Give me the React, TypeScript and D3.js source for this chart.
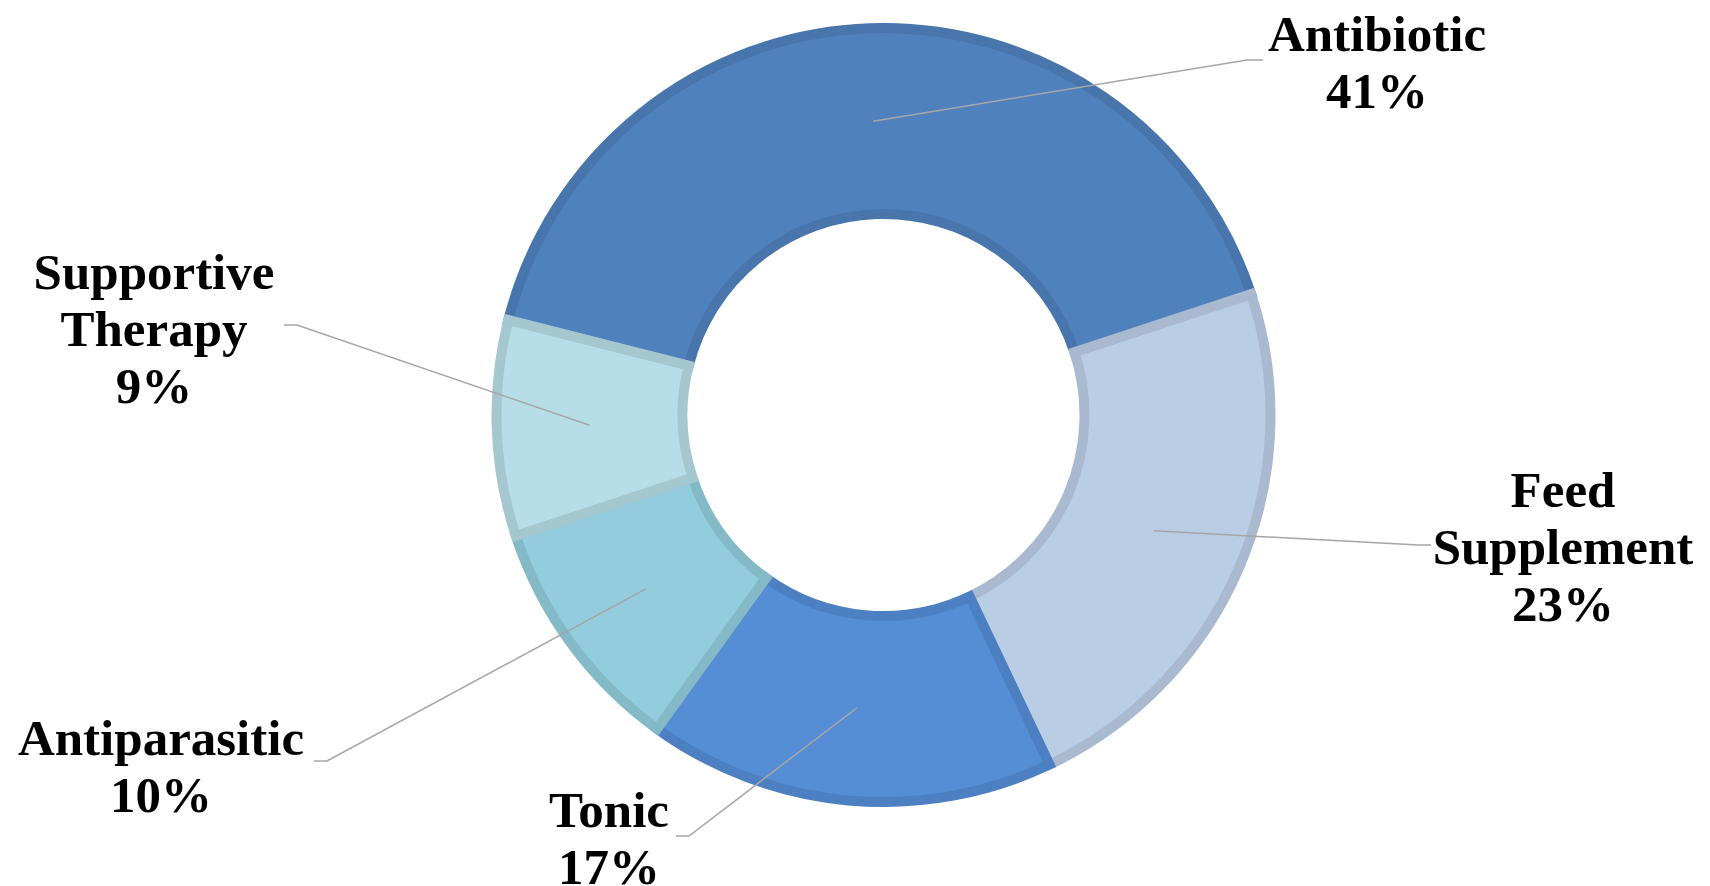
import React, { useEffect } from "react";
import * as d3 from "d3";

// Share of drug classes used (percent)
const categories = ["Antibiotic", "Feed Supplement", "Tonic", "Antiparasitic", "Supportive Therapy"];
const shares = [41, 23, 17, 10, 9];
const fills = ["#4F81BD", "#B9CDE5", "#558ED5", "#93CDDD", "#B7DEE8"];
const borders = ["#4775AC", "#A8B9D0", "#4C80C2", "#84B9C7", "#A5C8D0"];

// Label text lines per category
const labelLines = [
  ["Antibiotic"],
  ["Feed", "Supplement"],
  ["Tonic"],
  ["Antiparasitic"],
  ["Supportive", "Therapy"],
];

// Label block placement: centre x, first baseline y, leader elbow (x, y) and elbow tail length
const labelLayout = [
  { x: 1377, y: 51, ex: 1247, ey: 60, tail: 16 },
  { x: 1563, y: 507, ex: 1418, ey: 545, tail: 13 },
  { x: 609, y: 827, ex: 689, ey: 836, tail: -13 },
  { x: 161, y: 755, ex: 327, ey: 761, tail: -13 },
  { x: 154, y: 289, ex: 297, ey: 325, tail: -13 },
];

const W = 1710;
const H = 886;
const CX = 883.5;
const CY = 415;
const R_OUT = 387;
const R_IN = 201;
const START = (-75.8 * Math.PI) / 180;
const LINE_H = 57;

export default function App() {
  useEffect(() => {
    document.body.style.margin = "0";
  }, []);

  const pie = d3
    .pie<number>()
    .sort(null)
    .value((d) => d)
    .startAngle(START)
    .endAngle(START + 2 * Math.PI);
  const arcs = pie(shares);
  const arc = d3.arc<d3.PieArcDatum<number>>().innerRadius(R_IN).outerRadius(R_OUT);

  return (
    <svg width={W} height={H} style={{ display: "block" }}>
      <g transform={`translate(${CX},${CY})`}>
        {arcs.map((a, i) => (
          <path
            key={categories[i]}
            d={arc(a) ?? ""}
            fill={fills[i]}
            stroke={borders[i]}
            strokeWidth={10}
            strokeLinejoin="miter"
          />
        ))}
      </g>
      {arcs.map((a, i) => {
        const [px, py] = arc.centroid(a);
        const L = labelLayout[i];
        const pts: [number, number][] = [
          [CX + px, CY + py],
          [L.ex, L.ey],
          [L.ex + L.tail, L.ey],
        ];
        return (
          <path
            key={`leader-${i}`}
            d={d3.line()(pts) ?? ""}
            fill="none"
            stroke="#A6A6A6"
            strokeWidth={1.5}
          />
        );
      })}
      {labelLines.map((lines, i) => {
        const L = labelLayout[i];
        const all = [...lines, `${shares[i]}%`];
        return (
          <text
            key={`label-${i}`}
            x={L.x}
            y={L.y}
            textAnchor="middle"
            fontFamily="'Liberation Serif', serif"
            fontWeight="bold"
            fontSize={51}
            fill="#000"
          >
            {all.map((t, j) => (
              <tspan key={j} x={L.x} y={L.y + j * LINE_H}>
                {t}
              </tspan>
            ))}
          </text>
        );
      })}
    </svg>
  );
}
